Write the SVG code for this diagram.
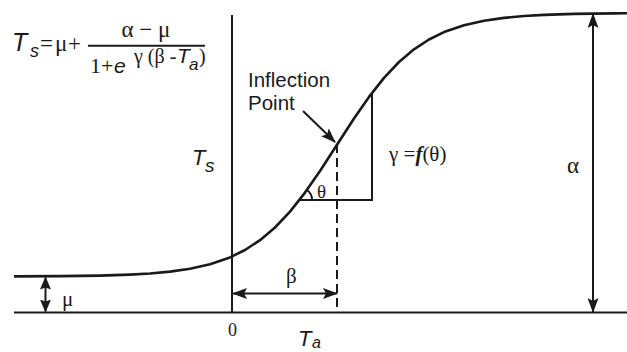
<svg xmlns="http://www.w3.org/2000/svg" width="627" height="352" viewBox="0 0 627 352">
<defs>
<marker id="ah" viewBox="0 0 15 11" refX="14" refY="5.5" markerWidth="15" markerHeight="11" markerUnits="userSpaceOnUse" orient="auto-start-reverse">
<path d="M0,0 L15,5.5 L0,11 L3,5.5 Z" fill="#1a1a1a"/>
</marker>
<marker id="ahs" viewBox="0 0 13 11" refX="12" refY="5.5" markerWidth="13" markerHeight="11" markerUnits="userSpaceOnUse" orient="auto-start-reverse">
<path d="M0,0 L13,5.5 L0,11 L2,5.5 Z" fill="#1a1a1a"/>
</marker>
</defs>
<style>
.ln{stroke:#1a1a1a;fill:none;stroke-width:2}
.cv{stroke:#1a1a1a;fill:none;stroke-width:2.6;stroke-linejoin:round}
.sans{font-family:"Liberation Sans",Arial,sans-serif;fill:#1a1a1a}
.it{font-style:italic}
.ser{font-family:"Liberation Serif","Times New Roman",serif;fill:#1a1a1a}
</style>
<rect width="627" height="352" fill="#ffffff"/>
<g id="axes">
<line class="ln" x1="14" y1="312.5" x2="627" y2="312.5"/>
<line class="ln" x1="232" y1="15" x2="232" y2="313"/>
</g>
<g id="curve">
<path class="cv" d="M14,276.4 L60,276.1 L100,275.6 L130,274.6 L150,273.5 L170,271.6 L190,268.8 L210,264.3 L230,257.4 L245,250 L260,240.2 L275,227.5 L290,211.6 L305,192.6 L320,171 L337,144.8 L354,118.5 L369,96.9 L384,77.9 L399,62 L414,49.3 L429,39.5 L444,32.1 L464,25.2 L484,20.7 L504,17.9 L524,16 L544,14.9 L574,13.9 L614,13.4 L627,13.3"/>
</g>
<g id="connectors">
<line class="ln" x1="337" y1="144" x2="337" y2="310" stroke-dasharray="9,5"/>
<path class="ln" d="M300,200 L372,200 L372,92"/>
<path class="ln" d="M312,200 A12,12 0 0 0 307,190" stroke-width="1.6"/>
<line class="ln" x1="303" y1="111" x2="335" y2="142" marker-end="url(#ah)"/>
<line class="ln" x1="593" y1="14" x2="593" y2="312" marker-start="url(#ah)" marker-end="url(#ah)"/>
<line class="ln" x1="233" y1="293.5" x2="337" y2="293.5" marker-start="url(#ah)" marker-end="url(#ah)"/>
<line class="ln" x1="45.5" y1="277.5" x2="45.5" y2="311.5" marker-start="url(#ahs)" marker-end="url(#ahs)"/>
</g>
<g id="formula">
<text class="sans it" x="12" y="51" font-size="25">T</text>
<text class="sans it" x="30" y="57" font-size="18">s</text>
<text class="ser" x="40" y="51" font-size="23">=</text>
<text class="ser" x="55" y="51" font-size="23">μ</text>
<text class="ser" x="68" y="51" font-size="23">+</text>
<line class="ln" x1="88" y1="45.7" x2="205" y2="45.7"/>
<text class="ser" x="146" y="37" font-size="23" text-anchor="middle">α − μ</text>
<text class="ser" x="90" y="73" font-size="22">1</text>
<text class="ser" x="101" y="73" font-size="22">+</text>
<text class="sans it" x="114" y="73" font-size="21">e</text>
<text class="ser" x="134" y="63" font-size="20">γ (β -</text>
<text class="sans it" x="177" y="63" font-size="21">T</text>
<text class="sans it" x="189" y="70" font-size="17">a</text>
<text class="ser" x="199" y="63" font-size="20">)</text>
</g>
<g id="label-ts">
<text class="sans it" x="192" y="165" font-size="22">T</text>
<text class="sans it" x="205" y="172" font-size="19">s</text>
</g>
<g id="label-inflection">
<text class="sans" x="248" y="87" font-size="20.5">Inflection</text>
<text class="sans" x="248" y="110" font-size="20.5">Point</text>
</g>
<g id="label-theta">
<text class="ser" x="317" y="198" font-size="19">θ</text>
</g>
<g id="label-gamma">
<text class="ser" x="389" y="161" font-size="21">γ =<tspan font-style="italic" font-weight="bold">f</tspan>(θ)</text>
</g>
<g id="label-alpha">
<text class="ser" x="567" y="173" font-size="23">α</text>
</g>
<g id="label-beta">
<text class="ser" x="286" y="283" font-size="21">β</text>
</g>
<g id="label-mu">
<text class="ser" x="62" y="306" font-size="21">μ</text>
</g>
<g id="label-zero">
<text class="ser" x="232.5" y="336" font-size="18" text-anchor="middle">0</text>
</g>
<g id="label-ta">
<text class="sans it" x="298" y="346" font-size="22">T</text>
<text class="sans it" x="312" y="348" font-size="16">a</text>
</g>
</svg>
